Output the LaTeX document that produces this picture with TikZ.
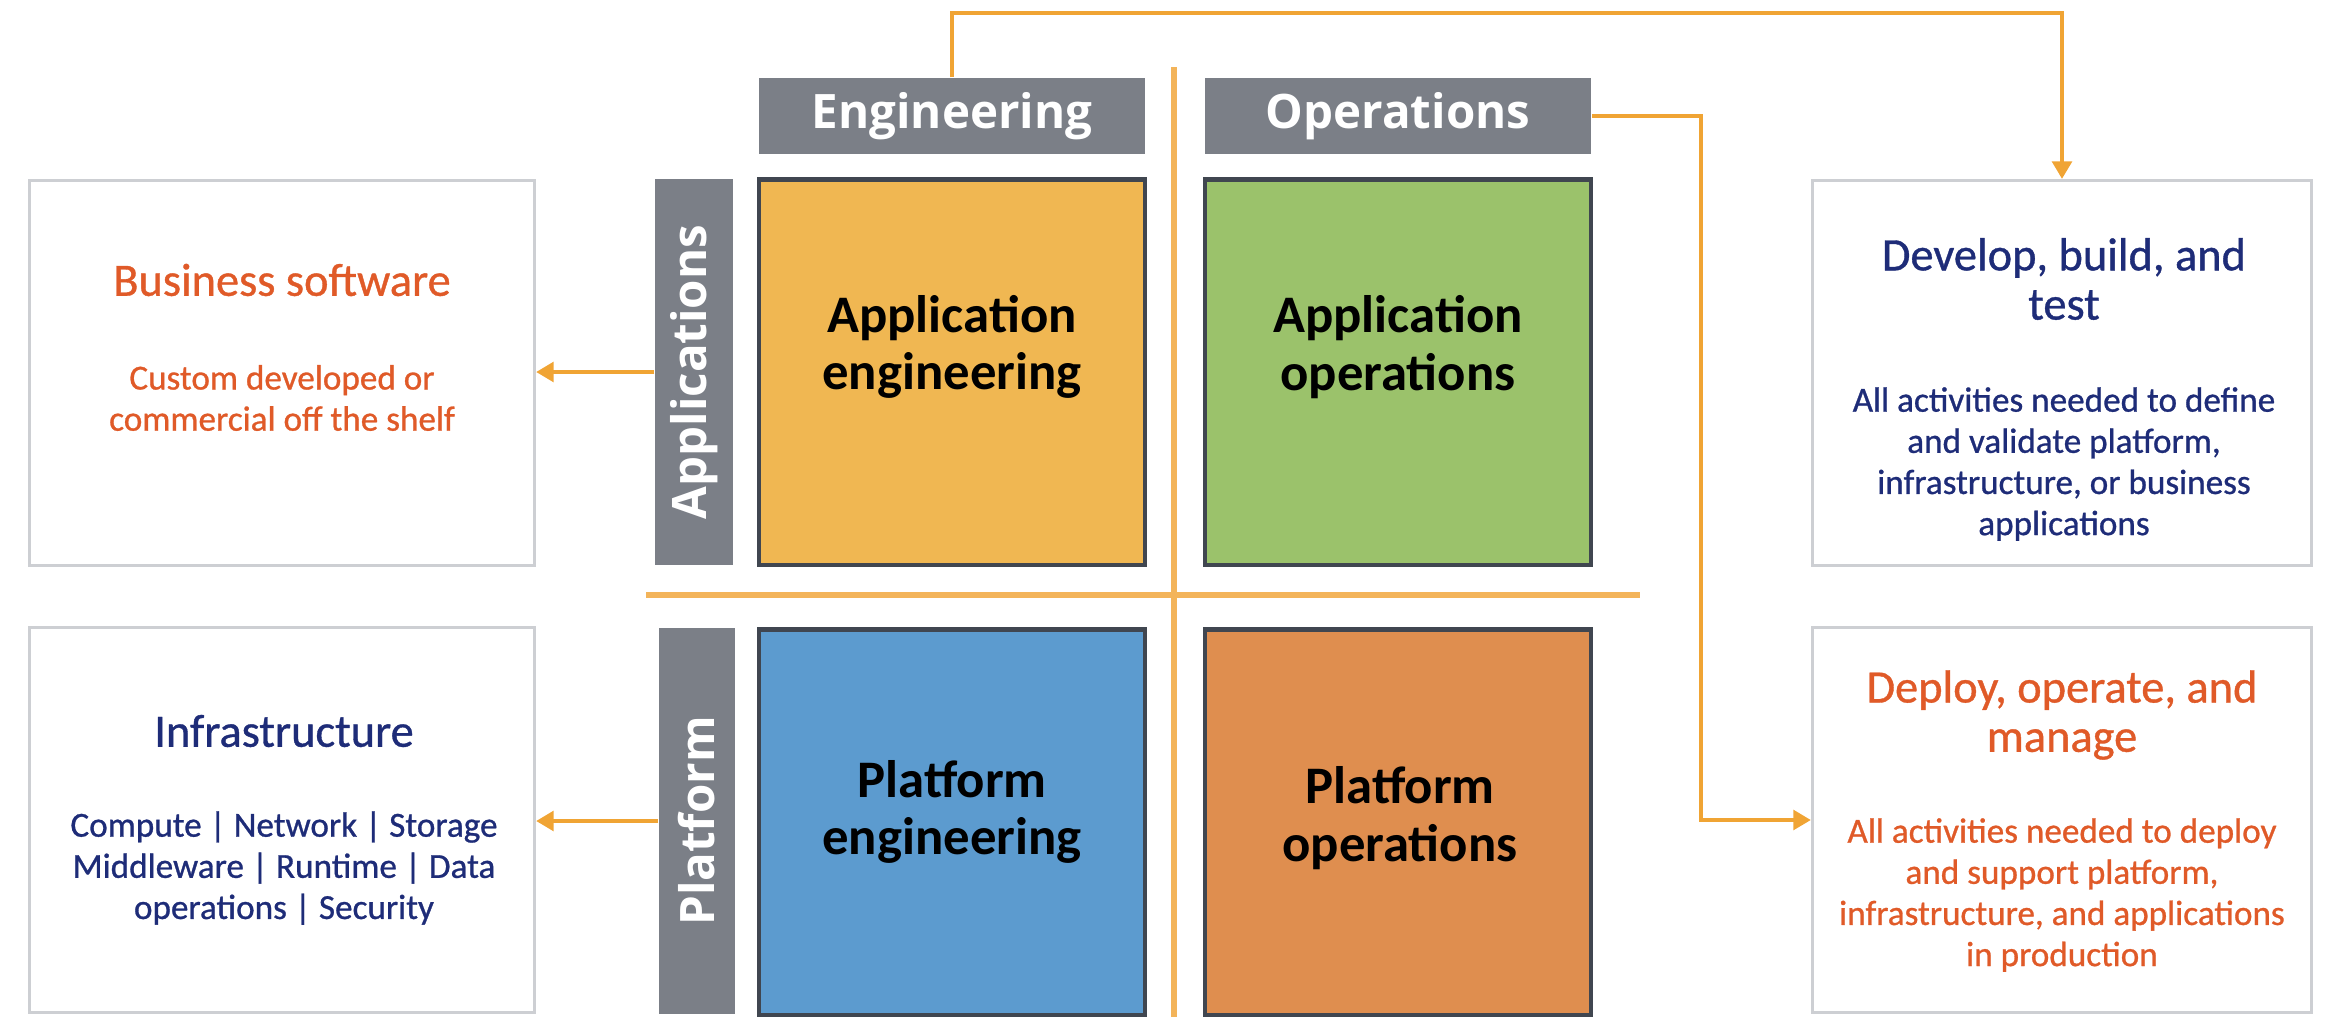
\documentclass[tikz,border=0pt]{standalone}
\usepackage{fontspec}
\setmainfont{Carlito}
\newfontfamily\headfont{Open Sans}
\newfontfamily\infofont{Carlito}[FakeBold=0.8]
\usepackage{graphicx}
\usetikzlibrary{arrows.meta}

\definecolor{hdrgray}{RGB}{123,127,135}
\definecolor{engyellow}{RGB}{240,183,82}
\definecolor{opsgreen}{RGB}{155,194,107}
\definecolor{platblue}{RGB}{92,155,207}
\definecolor{platorange}{RGB}{223,142,79}
\definecolor{edgegray}{RGB}{64,70,80}
\definecolor{linkorange}{RGB}{240,164,52}
\definecolor{rulerorange}{RGB}{243,180,90}
\definecolor{boxgray}{RGB}{205,207,211}
\definecolor{titleorange}{RGB}{224,90,40}
\definecolor{titlenavy}{RGB}{30,44,120}

\begin{document}
\begin{tikzpicture}[x=0.01cm,y=-0.01cm,
  every node/.style={inner sep=0pt, align=center},
  hdr/.style={fill=hdrgray, text=white, font=\headfont\bfseries\fontsize{13.5}{16}\selectfont},
  cell/.style={draw=edgegray, line width=1.2pt, minimum width=3.86cm, minimum height=3.85cm},
  celltext/.style={font=\bfseries\fontsize{15}{16.4}\selectfont},
  infobox/.style={draw=boxgray, line width=0.8pt, fill=white, minimum width=5.05cm, minimum height=3.85cm},
  headline/.style={font=\infofont\fontsize{13.2}{14}\selectfont},
  detail/.style={font=\infofont\fontsize{10}{11.7}\selectfont},
  link/.style={draw=linkorange, line width=1.3pt, -{Triangle[length=5pt,width=5.5pt]}},
  ruler/.style={draw=rulerorange, line width=1.5pt}]
\useasboundingbox (0,0) rectangle (2344,1030);

% dividers of the grid
\coordinate (vtop) at (1174,67);
\coordinate (vbot) at (1174,1017);
\coordinate (hleft) at (646,595);
\coordinate (hright) at (1640,595);
\draw[ruler] (vtop) -- (vbot);
\draw[ruler] (hleft) -- (hright);

% headers
\node[hdr, minimum width=3.86cm, minimum height=0.76cm] (eng) at (952,116) {Engineering};
\node[hdr, minimum width=3.86cm, minimum height=0.76cm] (ops) at (1398,116) {Operations};
\node[hdr, minimum width=0.78cm, minimum height=3.85cm] (appl) at (694,372) {\rotatebox{90}{Applications}};
\node[hdr, minimum width=0.76cm, minimum height=3.85cm] (plat) at (697,821) {\rotatebox{90}{Platform}};

% the four cells
\node[cell, fill=engyellow] (appeng) at (952,372) {};
\node[cell, fill=opsgreen] (appops) at (1398,372) {};
\node[cell, fill=platblue] (plateng) at (952,822) {};
\node[cell, fill=platorange] (platops) at (1398,822) {};
\node[celltext] (appengtxt) at (952,347) {Application\\engineering};
\node[celltext] (appopstxt) at (1398,347) {Application\\operations};
\node[celltext] (platengtxt) at (952,812) {Platform\\engineering};
\node[celltext] (platopstxt) at (1400,818) {Platform\\operations};

% side boxes
\node[infobox] (biz) at (282,373) {};
\node[headline, text=titleorange] (biztitle) at (282,280) {Business software};
\node[detail, text=titleorange] (biztxt) at (282,398) {Custom developed or\\commercial off the shelf};

\node[infobox] (infra) at (282,820) {};
\node[headline, text=titlenavy] (infratitle) at (284,731) {Infrastructure};
\node[detail, text=titlenavy] (infratxt) at (284,868) {Compute | Network | Storage\\Middleware | Runtime | Data\\operations | Security};

\node[infobox, minimum width=4.99cm] (dev) at (2062,373) {};
\node[headline, text=titlenavy] (devtitle) at (2064,279) {Develop, build, and\\test};
\node[detail, text=titlenavy] (devtxt) at (2064,464) {All activities needed to define\\and validate platform,\\infrastructure, or business\\applications};

\node[infobox, minimum width=4.99cm] (deploy) at (2062,820) {};
\node[headline, text=titleorange] (deploytitle) at (2062,715) {Deploy, operate, and\\manage};
\node[detail, text=titleorange] (deploytxt) at (2062,895) {All activities needed to deploy\\and support platform,\\infrastructure, and applications\\in production};

% connectors
\coordinate (top) at (0,13);
\coordinate (bend) at (1701,0);
\draw[link] (eng.north) -- (eng.north |- top) -| (dev.north);
\draw[link] (ops.east) -- (ops.east -| bend) |- (deploy.west);
\draw[link] (appl.west) -- (appl.west -| biz.east);
\draw[link] (plat.west) -- (plat.west -| infra.east);
\end{tikzpicture}
\end{document}
